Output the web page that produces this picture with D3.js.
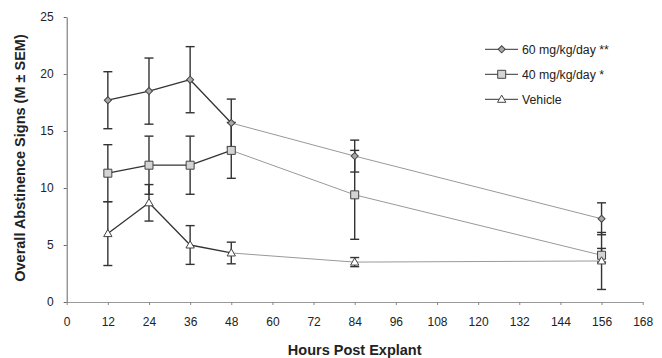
<!DOCTYPE html>
<head>
<style>
  body { margin: 0; background: #fff; }
  text { font-family: "Liberation Sans", Arial, sans-serif; fill: #222; }
  .axis-title { font-weight: bold; font-size: 14.5px; }
  .tick text { font-size: 12px; }
  .legend text { font-size: 12.3px; }
</style>
</head>
<body>
<svg width="662" height="358"></svg>
<script src="https://d3js.org/d3.v7.min.js"></script>
<script>

// data
var hours = [12, 24, 36, 48, 84, 156];
var mean60 = [17.7, 18.5, 19.5, 15.7, 12.8, 7.3];
var sem60  = [2.5, 2.9, 2.9, 2.1, 1.4, 1.4];
var mean40 = [11.3, 12.0, 12.0, 13.3, 9.4, 4.1];
var sem40  = [2.5, 2.55, 2.55, 2.45, 3.9, 0.6];
var meanVeh = [6.0, 8.7, 5.0, 4.3, 3.5, 3.6];
var semVeh  = [2.8, 1.6, 1.7, 0.95, 0.4, 2.5];
var seriesNames = ["60 mg/kg/day **", "40 mg/kg/day *", "Vehicle"];
var xTicks = [0, 12, 24, 36, 48, 60, 72, 84, 96, 108, 120, 132, 144, 156, 168];
var yTicks = [0, 5, 10, 15, 20, 25];

var series = [
  {name: seriesNames[0], mean: mean60, sem: sem60, shape: "diamond", fill: "#a9a9a9"},
  {name: seriesNames[1], mean: mean40, sem: sem40, shape: "square", fill: "#d4d4d4"},
  {name: seriesNames[2], mean: meanVeh, sem: semVeh, shape: "triangle", fill: "#fff"}
];

var svg = d3.select("svg");

var x = d3.scaleLinear().domain([0, 168]).range([66.7, 642.7]);
var y = d3.scaleLinear().domain([0, 25]).range([302, 17]);

// x axis
var xg = svg.append("g")
    .attr("transform", "translate(0," + y(0) + ")")
    .call(d3.axisBottom(x).tickValues(xTicks).tickSize(3).tickPadding(12).tickSizeOuter(0));
xg.select(".domain").attr("stroke", "#999");
xg.selectAll(".tick line").attr("stroke", "#888");

// y axis
var yg = svg.append("g")
    .attr("transform", "translate(" + x(0) + ",0)")
    .call(d3.axisLeft(y).tickValues(yTicks).tickSize(3).tickPadding(10).tickSizeOuter(0));
yg.select(".domain").attr("stroke", "#666");
yg.selectAll(".tick line").attr("stroke", "#666");

svg.append("text")
    .attr("class", "axis-title")
    .attr("x", 354.7)
    .attr("y", 355)
    .attr("text-anchor", "middle")
    .text("Hours Post Explant");

svg.append("text")
    .attr("class", "axis-title")
    .attr("transform", "translate(25,158) rotate(-90)")
    .attr("text-anchor", "middle")
    .text("Overall Abstinence Signs (M ± SEM)");

function symbolPath(shape) {
  if (shape == "diamond") return d3.symbol(d3.symbolSquare, 25)();
  if (shape == "square") return d3.symbol(d3.symbolSquare, 64)();
  return d3.symbol(d3.symbolTriangle, 30)();
}
function symbolTransform(shape, px, py) {
  var t = "translate(" + px + "," + py + ")";
  if (shape == "diamond") t += " rotate(45)";
  if (shape == "triangle") t = "translate(" + px + "," + (py + 0.6) + ")";
  return t;
}

// connecting lines: early segments dark, later ones faint as in the scan
series.forEach(function(s) {
  for (var i = 0; i < hours.length - 1; i++) {
    svg.append("line")
      .attr("x1", x(hours[i])).attr("y1", y(s.mean[i]))
      .attr("x2", x(hours[i + 1])).attr("y2", y(s.mean[i + 1]))
      .attr("stroke", i < 3 ? "#333" : "#999")
      .attr("stroke-width", i < 3 ? 1.3 : 1);
  }
});

// error bars
series.forEach(function(s) {
  hours.forEach(function(h, i) {
    var cx = x(h), top = y(s.mean[i] + s.sem[i]), bot = y(s.mean[i] - s.sem[i]);
    var g = svg.append("g").attr("stroke", "#333").attr("stroke-width", 1.4);
    g.append("line").attr("x1", cx).attr("x2", cx).attr("y1", top).attr("y2", bot);
    g.append("line").attr("x1", cx - 4.5).attr("x2", cx + 4.5).attr("y1", top).attr("y2", top);
    g.append("line").attr("x1", cx - 4.5).attr("x2", cx + 4.5).attr("y1", bot).attr("y2", bot);
  });
});

// markers
series.forEach(function(s) {
  svg.selectAll(null)
    .data(hours)
    .enter().append("path")
    .attr("d", symbolPath(s.shape))
    .attr("transform", function(h, i) { return symbolTransform(s.shape, x(h), y(s.mean[i])); })
    .attr("fill", s.fill)
    .attr("stroke", "#444")
    .attr("stroke-width", 1);
});

// legend
var legend = svg.append("g").attr("class", "legend");
series.forEach(function(s, i) {
  var ly = 49.3 + i * 25;
  legend.append("line")
    .attr("x1", 485).attr("x2", 518).attr("y1", ly).attr("y2", ly)
    .attr("stroke", "#333").attr("stroke-width", 1);
  legend.append("path")
    .attr("d", symbolPath(s.shape))
    .attr("transform", symbolTransform(s.shape, 501.7, ly))
    .attr("fill", s.fill)
    .attr("stroke", "#444");
  legend.append("text")
    .attr("x", 522).attr("y", ly + 4.3)
    .text(s.name);
});

</script>
</body>
</html>
